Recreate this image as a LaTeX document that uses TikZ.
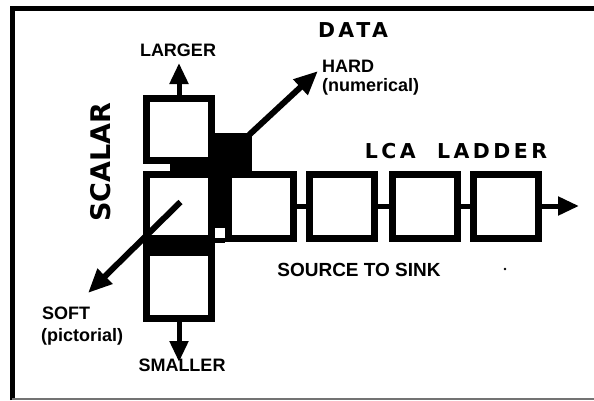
\documentclass[tikz,border=0pt]{standalone}
\usepackage{fontspec}
\setmainfont{Liberation Sans}
\newfontfamily\spacedfont[LetterSpace=17]{DejaVu Sans}
\newfontfamily\heavyfont{DejaVu Sans}
\usetikzlibrary{arrows.meta}
\begin{document}
\begin{tikzpicture}[x=1pt,y=-1pt,
  box/.style={draw=black, fill=white, line width=7pt, inner sep=0pt, minimum width=65pt, minimum height=64pt},
  link/.style={line width=5pt},
  arr/.style={line width=5pt, -{Triangle[length=21pt,width=18pt]}},
  darr/.style={line width=6pt, -{Triangle[length=24pt,width=20pt]}},
  lab/.style={font=\bfseries\fontsize{18}{20}\selectfont, inner sep=0pt},
  title/.style={font=\spacedfont\bfseries\fontsize{20.5}{22}\selectfont, inner sep=0pt}]
\useasboundingbox (0,0) rectangle (594,400);
% frame
\draw[line width=5pt] (12.5,400) -- (12.5,8.5) -- (594,8.5);
\draw[black!55, line width=2pt] (12,399) -- (594,399);
% black data block behind
\node[fill=black, inner sep=0pt, minimum width=82pt, minimum height=95pt] (data) at (211,180.5) {};
% boxes
\node[box, minimum height=62pt] (T) at (179,129.5) {};
\node[box] (L) at (178.5,206) {};
\node[box, minimum height=66pt] (B) at (179,285.5) {};
\node[box] (R1) at (261,206) {};
\node[box] (R2) at (342,206) {};
\node[box] (R3) at (424.5,206) {};
\node[box] (R4) at (506,206) {};
% links
\fill (L.south west) rectangle (B.north east);
\draw[link] ([yshift=1pt]L.south east) -- ([yshift=1pt]R1.south west);
\draw[link] (R1.east) -- (R2.west);
\draw[link] (R2.east) -- (R3.west);
\draw[link] (R3.east) -- (R4.west);
% arrows
\coordinate (outtip) at (579,206);
\coordinate (largetip) at (179,63);
\coordinate (smalltip) at (179,362);
\coordinate (hardtip) at (318,71);
\coordinate (softtip) at (88,293);
\draw[arr] (R4.east) -- (outtip);
\draw[arr] (T.north) -- (largetip);
\draw[arr] (B.south) -- (smalltip);
\draw[darr] ([shift={(-3pt,-2pt)}]data.north east) -- (hardtip);
\draw[darr] ([shift={(2pt,4pt)}]L.center) -- (softtip);
% labels
\node[title] (datalab) at (353,30) {DATA};
\node[lab, anchor=west] (hard) at (322,66) {HARD};
\node[lab, anchor=west] (numer) at (322,87) {(numerical)};
\node[lab] (larger) at (178,50) {LARGER};
\node[font=\heavyfont\bfseries\fontsize{27}{29}\selectfont, inner sep=0pt, rotate=90] (scalar) at (101,162) {SCALAR};
\node[title] (lca) at (456,151) {LCA\ \ LADDER};
\node[lab, font=\bfseries\fontsize{19}{20}\selectfont] (sts) at (359,270) {SOURCE TO SINK};
\node[lab, anchor=west] (soft) at (42,313) {SOFT};
\node[lab, anchor=west] (pict) at (41,337) {(pictorial)};
\node[lab] (smaller) at (182,365) {SMALLER};
\fill (505,269) circle (1.3pt);
\end{tikzpicture}
\end{document}
